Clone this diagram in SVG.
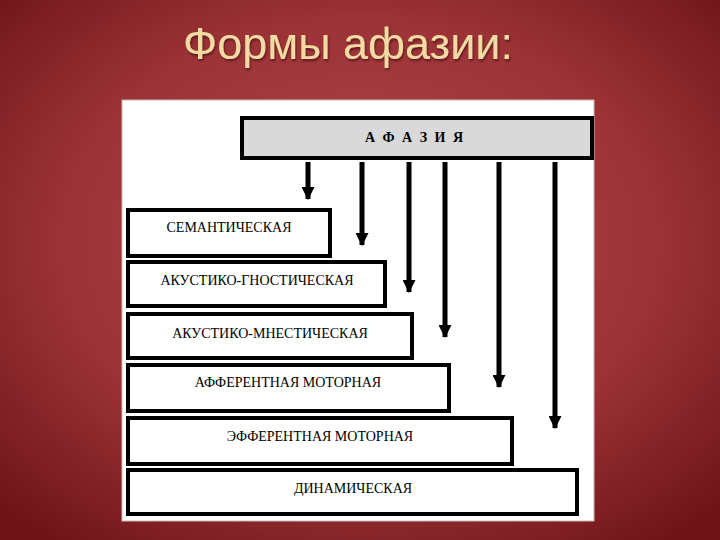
<svg xmlns="http://www.w3.org/2000/svg" width="720" height="540" viewBox="0 0 720 540">
<defs>
<radialGradient id="bg" cx="50%" cy="45%" r="70%">
<stop offset="0" stop-color="#b44a4c"/>
<stop offset="0.6" stop-color="#9a3236"/>
<stop offset="1" stop-color="#6e1418"/>
</radialGradient>
<marker id="ah" viewBox="0 0 12 12" refX="11" refY="6" markerWidth="13" markerHeight="13" markerUnits="userSpaceOnUse" orient="auto">
<path d="M0,0 L12,6 L0,12 Z" fill="#000"/>
</marker>
<filter id="sh" x="-5%" y="-5%" width="110%" height="120%">
<feDropShadow dx="1" dy="2" stdDeviation="1" flood-color="#3a0608" flood-opacity="0.6"/>
</filter>
</defs>
<style>
.box{fill:#fff;stroke:#000;stroke-width:4}
.lbl{font-family:"Liberation Serif","DejaVu Serif",serif;font-size:14px;fill:#000;text-anchor:middle}
.conn line{stroke:#000;stroke-width:5}
</style>
<rect width="720" height="540" fill="url(#bg)"/>
<text x="348" y="59" font-family="'Liberation Sans',Arial,sans-serif" font-size="45" fill="#f2dba2" text-anchor="middle" filter="url(#sh)">Формы афазии:</text>
<rect x="122" y="100" width="472" height="421" fill="#fff" stroke="#c9b9b9" stroke-width="1"/>
<g id="afazia">
<rect x="242" y="118" width="350" height="40" fill="#d9d9d9" stroke="#000" stroke-width="4"/>
<text x="415" y="142" class="lbl" font-weight="bold" font-size="13" letter-spacing="2">А Ф А З И Я</text>
</g>
<g id="n1"><rect class="box" x="128" y="210" width="202" height="46"/><text class="lbl" x="229" y="232">СЕМАНТИЧЕСКАЯ</text></g>
<g id="n2"><rect class="box" x="128" y="262" width="257" height="44"/><text class="lbl" x="257" y="285">АКУСТИКО-ГНОСТИЧЕСКАЯ</text></g>
<g id="n3"><rect class="box" x="128" y="314" width="284" height="44"/><text class="lbl" x="270" y="338">АКУСТИКО-МНЕСТИЧЕСКАЯ</text></g>
<g id="n4"><rect class="box" x="128" y="365" width="321" height="46"/><text class="lbl" x="288" y="387">АФФЕРЕНТНАЯ МОТОРНАЯ</text></g>
<g id="n5"><rect class="box" x="128" y="418" width="384" height="46"/><text class="lbl" x="320" y="441">ЭФФЕРЕНТНАЯ  МОТОРНАЯ</text></g>
<g id="n6"><rect class="box" x="128" y="470" width="449" height="44"/><text class="lbl" x="353" y="493">ДИНАМИЧЕСКАЯ</text></g>
<g class="conn">
<line x1="308" y1="162" x2="308" y2="199" marker-end="url(#ah)"/>
<line x1="362" y1="162" x2="362" y2="245" marker-end="url(#ah)"/>
<line x1="409" y1="162" x2="409" y2="292" marker-end="url(#ah)"/>
<line x1="445" y1="162" x2="445" y2="337" marker-end="url(#ah)"/>
<line x1="499" y1="162" x2="499" y2="387" marker-end="url(#ah)"/>
<line x1="555" y1="162" x2="555" y2="428" marker-end="url(#ah)"/>
</g>
</svg>
